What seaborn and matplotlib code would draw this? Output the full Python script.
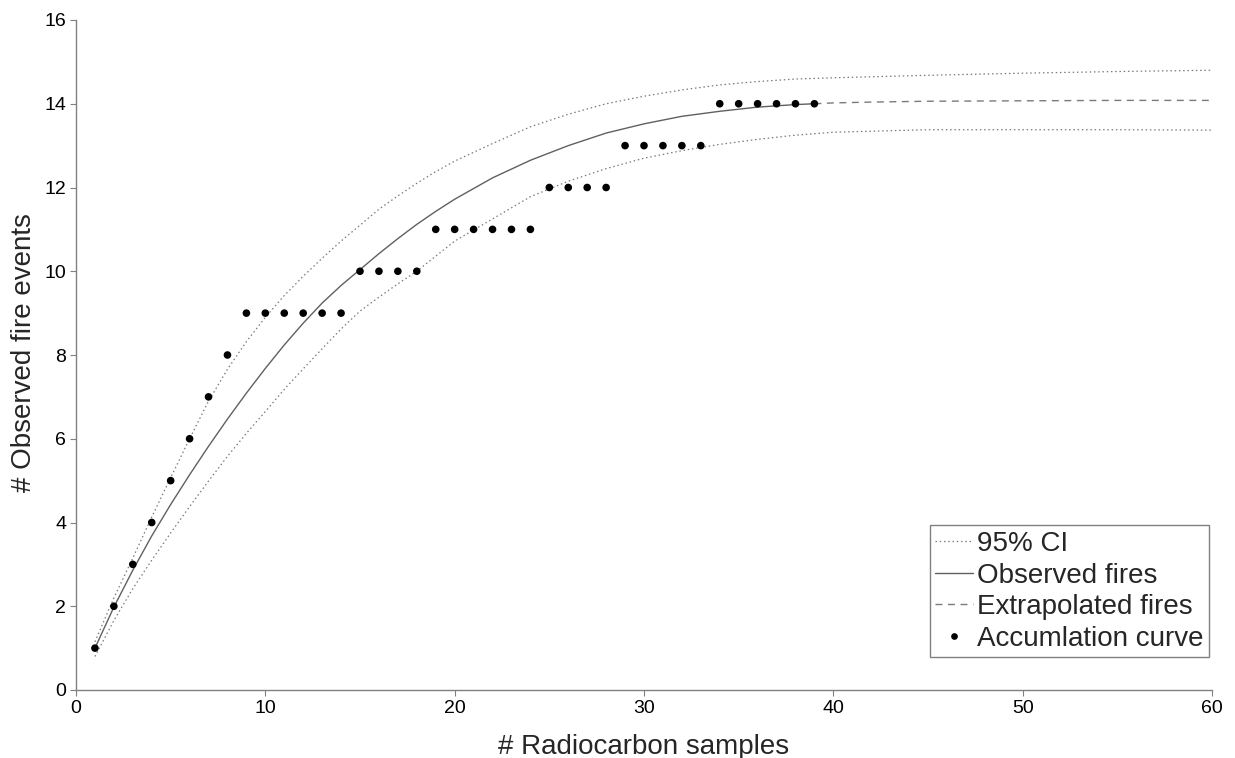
import matplotlib
matplotlib.use("Agg")
import matplotlib.pyplot as plt
import seaborn as sns
import pandas as pd
from matplotlib.lines import Line2D

# Accumulation curve: cumulative fire events per radiocarbon sample
sample_n = list(range(1, 40))
fire_events = [1, 2, 3, 4, 5, 6, 7, 8, 9, 9, 9, 9, 9, 9, 10, 10, 10, 10,
               11, 11, 11, 11, 11, 11, 12, 12, 12, 12, 13, 13, 13, 13, 13,
               14, 14, 14, 14, 14, 14]

# Rarefied (observed) fire curve
obs_x = [1, 2, 3, 4, 5, 6, 7, 8, 9, 10, 11, 12, 13, 14, 15, 16, 17, 18, 19,
         20, 22, 24, 26, 28, 30, 32, 34, 36, 38, 39]
obs_y = [1.00, 1.98, 2.86, 3.68, 4.43, 5.14, 5.82, 6.47, 7.09, 7.68, 8.24,
         8.76, 9.24, 9.66, 10.04, 10.42, 10.78, 11.12, 11.43, 11.72, 12.23,
         12.65, 13.00, 13.30, 13.52, 13.70, 13.82, 13.92, 13.98, 14.00]

# Extrapolated fire curve
ext_x = [39, 40, 42, 45, 50, 55, 60]
ext_y = [14.00, 14.02, 14.04, 14.06, 14.07, 14.08, 14.08]

# 95% confidence band
ci_x = [1, 2, 3, 4, 5, 6, 7, 8, 9, 10, 11, 12, 13, 14, 15, 16, 17, 18, 19,
        20, 22, 24, 26, 28, 30, 32, 34, 36, 38, 40, 45, 50, 55, 60]
ci_upper = [1.15, 2.20, 3.15, 4.13, 5.07, 6.00, 6.90, 7.66, 8.32, 8.90,
            9.42, 9.88, 10.31, 10.72, 11.10, 11.48, 11.80, 12.10, 12.38,
            12.63, 13.05, 13.45, 13.75, 14.00, 14.18, 14.33, 14.45, 14.53,
            14.59, 14.62, 14.68, 14.73, 14.77, 14.80]
ci_lower = [0.80, 1.66, 2.42, 3.10, 3.75, 4.38, 4.99, 5.58, 6.13, 6.65,
            7.18, 7.67, 8.15, 8.62, 9.05, 9.38, 9.70, 10.00, 10.36, 10.72,
            11.25, 11.78, 12.15, 12.45, 12.70, 12.88, 13.03, 13.15, 13.25,
            13.32, 13.38, 13.38, 13.38, 13.37]

acc = pd.DataFrame({"samples": sample_n, "fires": fire_events})
obs = pd.DataFrame({"samples": obs_x, "fires": obs_y})
ext = pd.DataFrame({"samples": ext_x, "fires": ext_y})
ci = pd.DataFrame({"samples": ci_x, "upper": ci_upper, "lower": ci_lower})

sns.set_theme(style="ticks")
plt.rcParams["font.family"] = ["Liberation Sans", "DejaVu Sans"]

fig = plt.figure(figsize=(12.35, 7.58), dpi=100)
ax = fig.add_axes([76 / 1235, 1 - 690 / 758, (1212 - 76) / 1235, (690 - 20) / 758])

dotted = (0, (1.2, 2.2))
dashed = (0, (5, 4))
grey = "#7a7a7a"

sns.lineplot(data=ci, x="samples", y="upper", ax=ax, color=grey, lw=0.9,
             linestyle=dotted, estimator=None, sort=False)
sns.lineplot(data=ci, x="samples", y="lower", ax=ax, color=grey, lw=0.9,
             linestyle=dotted, estimator=None, sort=False)
sns.lineplot(data=obs, x="samples", y="fires", ax=ax, color="#606060", lw=1.0,
             estimator=None, sort=False)
sns.lineplot(data=ext, x="samples", y="fires", ax=ax, color=grey, lw=1.0,
             linestyle=dashed, estimator=None, sort=False)
sns.scatterplot(data=acc, x="samples", y="fires", ax=ax, color="black",
                s=30, edgecolor="none", zorder=5)

ax.set_xlim(0, 60)
ax.set_ylim(0, 16)
ax.set_xticks(range(0, 61, 10))
ax.set_yticks(range(0, 17, 2))
sns.despine(ax=ax)
for side in ("left", "bottom"):
    ax.spines[side].set_color("#808080")
    ax.spines[side].set_linewidth(1.0)
ax.tick_params(axis="both", direction="out", length=4, width=0.8,
               color="#808080", labelsize=14, labelcolor="black", pad=3)

ax.set_xlabel("# Radiocarbon samples", fontsize=20)
ax.set_ylabel("# Observed fire events", fontsize=20)
ax.xaxis.set_label_coords(0.5, -0.066)
ax.yaxis.set_label_coords(-0.034, 0.504)

handles = [
    Line2D([], [], color=grey, lw=0.9, linestyle=dotted),
    Line2D([], [], color="#606060", lw=1.0),
    Line2D([], [], color=grey, lw=1.0, linestyle=dashed),
    Line2D([], [], color="black", marker="o", markersize=3.8, linestyle="none"),
]
labels = ["95% CI", "Observed fires", "Extrapolated fires", "Accumlation curve"]
leg = ax.legend(handles, labels, loc="lower right", bbox_to_anchor=(0.9974, 0.049),
                fontsize=20, frameon=True, fancybox=False, framealpha=1,
                handlelength=1.35, handletextpad=0.15, borderpad=0.2,
                labelspacing=0.2, borderaxespad=0)
leg.get_frame().set_edgecolor("#808080")
leg.get_frame().set_linewidth(1.0)

fig.savefig("out.png", dpi=100)
